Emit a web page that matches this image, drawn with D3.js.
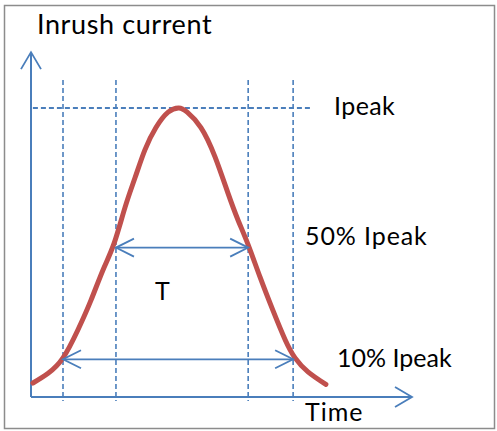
<!DOCTYPE html>
<html>
<head>
<meta charset="utf-8">
<script src="https://cdn.jsdelivr.net/npm/d3@7"></script>
<style>
  body { margin: 0; background: #fff; }
  text { font-family: Lato, "Open Sans", sans-serif; fill: #000; }
</style>
</head>
<body>
<div id="container"></div>
<script>
const width = 497;
const height = 431;

//------------------DONNEES------------------//
// curve: time (arbitrary units) and current (fraction of Ipeak)
const times    = [0.05, 0.45, 0.84, 1.23, 1.57, 1.89, 2.18, 2.47, 2.73, 2.99, 3.28, 3.60, 3.88, 4.10, 4.46, 4.83, 5.17, 5.43, 5.70, 6.01, 6.35, 6.67, 6.93, 7.27, 7.74];
const currents = [0.015, 0.05, 0.105, 0.205, 0.31, 0.42, 0.515, 0.645, 0.75, 0.85, 0.93, 0.985, 1.00, 0.985, 0.93, 0.825, 0.695, 0.60, 0.51, 0.395, 0.275, 0.17, 0.105, 0.055, 0.01];

// reference levels
const levelNames  = ["Ipeak", "50% Ipeak", "10% Ipeak"];
const levelValues = [1, 0.5, 0.1];
// crossing times of the dashed verticals (10% left, 50% left, 50% right, 10% right)
const crossTimes  = [0.84, 2.23, 5.70, 6.88];

const axisTitleY = "Inrush current";
const axisTitleX = "Time";
const widthLabel = "T";

const blue = "#4a7ebb";
const red = "#c0504d";

//------------------SVG------------------//
const svg = d3.select("#container").append("svg")
    .attr("width", width)
    .attr("height", height);

svg.append("rect")
    .attr("x", 4.5).attr("y", 5.5)
    .attr("width", 490).attr("height", 423)
    .style("fill", "#fff")
    .style("stroke", "#8c8c8c")
    .style("stroke-width", 1.5);

//------------------ECHELLES------------------//
const xScale = d3.scaleLinear().domain([0, 10]).range([31, 412]);
const yScale = d3.scaleLinear().domain([-0.035, 1]).range([397, 108]);

const x0 = xScale(0), y0 = yScale(-0.035);

// open arrow head: two short strokes back from the tip
function head(x, y, dx, dy, len, spread) {
    const px = -dy, py = dx;
    return "M" + (x - dx * len + px * spread) + "," + (y - dy * len + py * spread)
        + "L" + x + "," + y
        + "L" + (x - dx * len - px * spread) + "," + (y - dy * len - py * spread);
}

//------------------AXES------------------//
svg.append("line")
    .attr("x1", x0).attr("y1", y0)
    .attr("x2", xScale(10)).attr("y2", y0)
    .style("stroke", blue).style("stroke-width", 2);
svg.append("path")
    .attr("d", head(xScale(10), y0, 1, 0, 17, 10))
    .style("fill", "none").style("stroke", blue).style("stroke-width", 1.8);

svg.append("line")
    .attr("x1", x0).attr("y1", y0)
    .attr("x2", x0).attr("y2", yScale(1.2))
    .style("stroke", blue).style("stroke-width", 2);
svg.append("path")
    .attr("d", head(x0, yScale(1.2), 0, -1, 17, 10))
    .style("fill", "none").style("stroke", blue).style("stroke-width", 1.8);

svg.append("text")
    .attr("x", 37).attr("y", 34)
    .style("font-size", "27px")
    .style("letter-spacing", "0.6px")
    .text(axisTitleY);

svg.append("text")
    .attr("x", 305).attr("y", 421)
    .style("font-size", "25px")
    .style("letter-spacing", "1px")
    .text(axisTitleX);

//------------------REPERES------------------//
svg.selectAll("vdash")
    .data(crossTimes)
    .enter()
    .append("line")
    .attr("x1", d => xScale(d)).attr("x2", d => xScale(d))
    .attr("y1", yScale(1.1)).attr("y2", y0 + 4)
    .style("stroke", blue)
    .style("stroke-width", 1.6)
    .style("stroke-dasharray", "5,3");

svg.append("line")
    .attr("x1", xScale(0.05)).attr("x2", xScale(7.38))
    .attr("y1", yScale(levelValues[0])).attr("y2", yScale(levelValues[0]))
    .style("stroke", blue)
    .style("stroke-width", 1.8)
    .style("stroke-dasharray", "5,3");

//------------------COURBE------------------//
const curve = times.map((t, i) => ({ t: t, c: currents[i] }));
const line = d3.line()
    .x(d => xScale(d.t))
    .y(d => yScale(d.c))
    .curve(d3.curveNatural);

svg.append("path")
    .datum(curve)
    .attr("d", line)
    .style("fill", "none")
    .style("stroke", red)
    .style("stroke-width", 5)
    .style("stroke-linecap", "round");

//------------------FLECHES------------------//
const spans = [
    { level: levelValues[1], from: crossTimes[1], to: crossTimes[2] },
    { level: levelValues[2], from: crossTimes[0], to: crossTimes[3] }
];
spans.forEach(function(s) {
    const y = yScale(s.level);
    svg.append("line")
        .attr("x1", xScale(s.from)).attr("x2", xScale(s.to))
        .attr("y1", y).attr("y2", y)
        .style("stroke", blue).style("stroke-width", 1.8);
    svg.append("path")
        .attr("d", head(xScale(s.from), y, -1, 0, 18, 9) + head(xScale(s.to), y, 1, 0, 18, 9))
        .style("fill", "none").style("stroke", blue).style("stroke-width", 1.8);
});

//------------------LEGENDES------------------//
const labelPos = [[334, 115], [305, 245], [337, 367]];
const labelSpacing = [0.4, 0.9, 0];
svg.selectAll("levlabels")
    .data(levelNames)
    .enter()
    .append("text")
    .attr("x", (d, i) => labelPos[i][0])
    .attr("y", (d, i) => labelPos[i][1])
    .style("font-size", "25px")
    .style("letter-spacing", (d, i) => labelSpacing[i] + "px")
    .text(d => d);

svg.append("text")
    .attr("x", 155).attr("y", 300)
    .style("font-size", "25px")
    .text(widthLabel);
</script>
</body>
</html>
